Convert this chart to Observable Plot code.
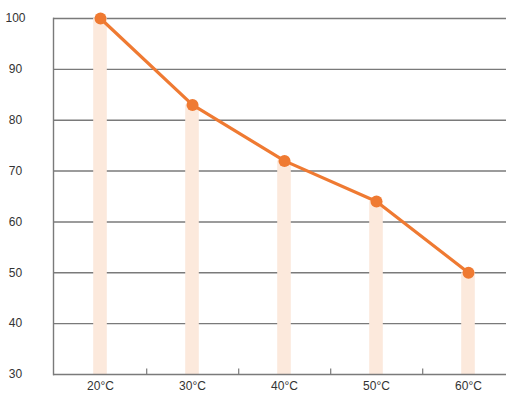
<!DOCTYPE html>
<html>
<head>
<meta charset="utf-8">
<script src="https://cdn.jsdelivr.net/npm/d3@7"></script>
<script src="https://cdn.jsdelivr.net/npm/@observablehq/plot@0.6"></script>
<style>
  html, body { margin: 0; padding: 0; background: #fff; }
  #chart svg { display: block; }
</style>
</head>
<body>
<div id="chart"></div>
<script>
const categories = ["20°C", "30°C", "40°C", "50°C", "60°C"];
const values = [100, 83, 72, 64, 50];
const yTicks = [30, 40, 50, 60, 70, 80, 90, 100];

const data = categories.map((c, i) => ({cat: c, value: values[i]}));

const W = 506, H = 397;
const mL = 53, mR = -9, mT = 18, mB = 23;
const step = (W - mL - mR) / categories.length;

const chart = Plot.plot({
  width: W,
  height: H,
  marginLeft: mL,
  marginRight: mR,
  marginTop: mT,
  marginBottom: mB,
  style: {fontFamily: "'Liberation Sans', Arial, sans-serif", fontSize: "12px", color: "#333", background: "#fff"},
  x: {type: "band", domain: categories, padding: 0, label: null},
  y: {domain: [30, 100], label: null, axis: null},
  marks: [
    Plot.ruleY(yTicks.filter(t => t > 30), {y: d => d, stroke: "#7a7a7a", strokeWidth: 1.4, strokeOpacity: 1}),
    Plot.barY(data, {x: "cat", y1: 30, y2: "value", fill: "#fce9dc", insetLeft: (step - 14) / 2, insetRight: (step - 14) / 2}),
    Plot.ruleY([30], {stroke: "#7a7a7a", strokeWidth: 1.4}),
    Plot.frame({anchor: "left", stroke: "#7a7a7a", strokeWidth: 1.4}),
    Plot.ruleX(categories.slice(0, -1), {x: d => d, dx: step / 2, y1: 30, y2: 31.1, stroke: "#7a7a7a", strokeWidth: 1.2}),
    Plot.text(yTicks, {y: d => d, text: d => String(d), frameAnchor: "left", dx: -38, textAnchor: "middle", fontSize: 12, fill: "#333"}),
    Plot.axisX({tickSize: 0, tickPadding: 7, fontSize: 12, fill: "#333"}),
    Plot.line(data, {x: "cat", y: "value", stroke: "#ef7a32", strokeWidth: 3.2}),
    Plot.dot(data, {x: "cat", y: "value", r: 6, fill: "#ef7a32", stroke: "none"})
  ]
});
document.getElementById("chart").appendChild(chart);
</script>
</body>
</html>
